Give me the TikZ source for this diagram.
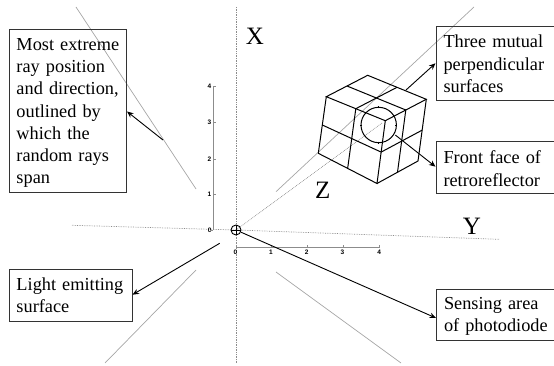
\documentclass[tikz,border=0pt]{standalone}
\usepackage{fontspec}
\setmainfont{Liberation Serif}
\newfontfamily\ticksfont{Liberation Sans}
\usetikzlibrary{arrows.meta,calc}
\tikzset{
  x=1pt,y=-1pt,
  labelbox/.style={draw=black!80,line width=1pt,anchor=north west,inner sep=0pt,align=left,
     font=\fontsize{18.3}{22.3}\selectfont},
  raylimit/.style={draw=black!35,line width=0.7pt},
  axisdot/.style={draw=black!45,line width=0.7pt,densely dotted},
  scaleaxis/.style={draw=black!45,line width=0.7pt},
  ticknum/.style={font=\ticksfont\bfseries\fontsize{6.5}{6.5}\selectfont,inner sep=0pt},
  leader/.style={draw=black,line width=0.9pt,-{Stealth[length=6.5pt,width=5.5pt]}},
  cube/.style={draw=black,line width=1pt},
  axisname/.style={font=\fontsize{25}{25}\selectfont,inner sep=0pt},
}
\begin{document}
\begin{tikzpicture}
\path[use as bounding box] (0,0) rectangle (554,366);
\clip (0,0) rectangle (554,366);
% gray ray limits
\draw[raylimit] (76,7) -- (196,189);
\draw[raylimit] (196,270) -- (105,363);
\draw[raylimit] (276,272) -- (401,363);
\draw[raylimit] (474,7) -- (276,191.7);
% axes through the origin
\coordinate (o) at (236,230);
\draw[axisdot] (236,7) -- (236,363);
\draw[axisdot] (72,225.3) -- (o) -- (499,239.3);
\draw[axisdot] (o) -- (382,123);
% scale axes
\draw[scaleaxis] (213.3,86.7) -- (213.3,230.3);
\foreach \y/\t in {86.7/4,122.7/3,159/2,194.3/1}{
  \draw[scaleaxis] (213.3,\y) -- (216,\y);
  \node[ticknum] at (209.5,\y) {\t};
}
\node[ticknum] at (209.8,230.3) {0};
\draw[scaleaxis] (209.5,230.3) -- (213.3,230.3);
\draw[scaleaxis] (236,247.3) -- (379.7,247.3);
\foreach \x/\t in {236/0,271.5/1,307.3/2,343/3,379.7/4}{
  \draw[scaleaxis] (\x,247.3) -- (\x,244.5);
  \node[ticknum] at (\x-0.5,252.5) {\t};
}
% cube
\coordinate (tl) at (326.3,96.7);
\coordinate (tb) at (367.7,75.3);
\coordinate (tr) at (426.3,99.3);
\coordinate (tf) at (385.3,120.7);
\coordinate (bf) at (377,183.5);
\coordinate (bl) at (318.3,153.3);
\coordinate (br) at (418,161);
\draw[cube] (tl) -- (tb) -- (tr) -- (tf) -- cycle;
\draw[cube] (tl) -- (bl) -- (bf) -- (tf);
\draw[cube] (bf) -- (br) -- (tr);
\draw[cube] ($(tl)!.5!(tb)$) -- ($(tf)!.5!(tr)$);
\draw[cube] ($(tb)!.5!(tr)$) -- ($(tl)!.5!(tf)$);
\draw[cube] ($(tl)!.5!(bl)$) -- ($(tf)!.5!(bf)$) -- ($(tr)!.5!(br)$);
\draw[cube] ($(tl)!.5!(tf)$) -- ($(bl)!.5!(bf)$);
\draw[cube] ($(tf)!.5!(tr)$) -- ($(bf)!.5!(br)$);
\coordinate (cc) at (378.7,125);
\draw[cube] (cc) circle[radius=17.7];
\foreach \a in {0,90,180,270}{\draw[black,line width=0.7pt] (cc)++(\a:16.7) -- ++(\a:2);}
% origin mark
\node[draw=black,circle,line width=0.9pt,minimum size=10pt,inner sep=0pt] (src) at (o) {};
\draw[black,line width=0.8pt] (src.north) -- (src.south) (src.west) -- (src.east);
% axis letters
\node[axisname] (nx) at (255,36) {X};
\node[axisname] (ny) at (472,226) {Y};
\node[axisname] (nz) at (322.7,190) {Z};
% label boxes
\node[labelbox,text width=117.5pt,minimum height=163pt] (bx1) at (8.5,29)
  {\hspace*{7.5pt}\parbox[c]{108pt}{\vspace*{4pt}\raggedright Most extreme\\ray position\\and direction,\\outlined by\\which the\\random rays\\span}};
\node[labelbox,text width=123pt,minimum height=52pt] (bx2) at (8.5,269)
  {\hspace*{7.5pt}\parbox[c]{113pt}{\raggedright Light emitting\\surface}};
\node[labelbox,text width=125pt,minimum height=74.3pt] (bx3) at (435.5,25.7)
  {\hspace*{7.5pt}\parbox[c]{115pt}{\vspace*{1pt}\raggedright Three mutual\\perpendicular\\surfaces}};
\node[labelbox,text width=125pt,minimum height=52pt] (bx4) at (435.5,141)
  {\hspace*{7.5pt}\parbox[c]{115pt}{\vspace*{2pt}\raggedright Front face of\\retroreflector}};
\node[labelbox,text width=125pt,minimum height=51.3pt] (bx5) at (436,288.7)
  {\hspace*{7.5pt}\parbox[c]{115pt}{\vspace*{3pt}\raggedright Sensing area\\of photodiode}};
% leaders
\coordinate (a1) at (163,140);
\coordinate (a2) at (219.7,243.3);
\coordinate (a3) at (406,90);
\coordinate (a4) at (395.3,135);
\draw[leader] (a1) -- (bx1.east |- 0,111.5);
\draw[leader] (a2) -- (bx2.east |- 0,294.7);
\draw[leader] (a3) -- (bx3.west |- 0,63.3);
\draw[leader] (a4) -- (bx4.west |- 0,166.7);
\draw[leader] (src) -- (bx5.west |- 0,318);
\end{tikzpicture}
\end{document}
